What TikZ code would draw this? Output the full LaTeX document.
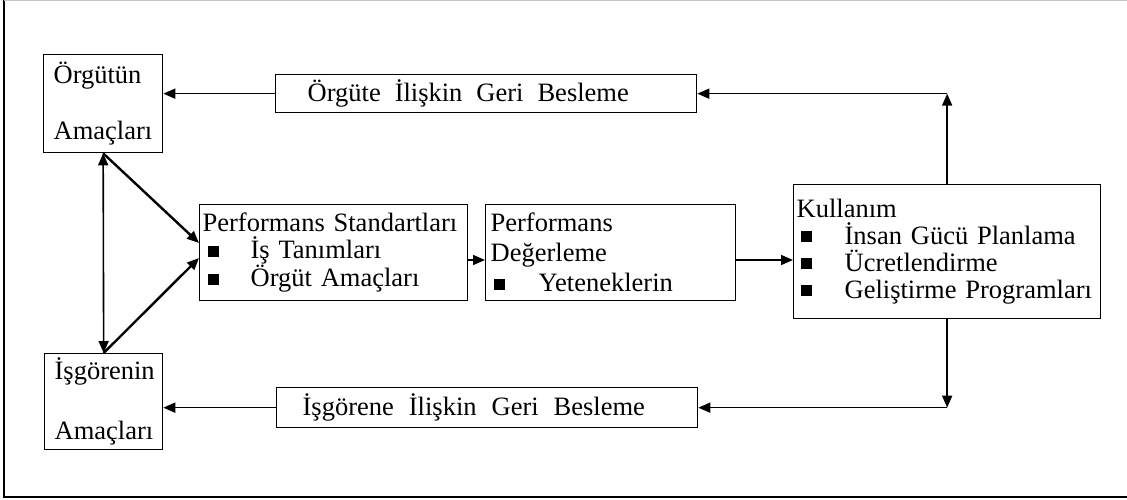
\documentclass[tikz,border=0pt]{standalone}
\usepackage{fontspec}
\setmainfont{Liberation Serif}
\usetikzlibrary{arrows.meta,calc}
\newcommand{\bul}[1][5pt]{\makebox[48pt][l]{\hspace*{#1}\rule[2pt]{11pt}{11pt}}}
\begin{document}
\begin{tikzpicture}[x=1pt,y=-1pt,
  box/.style={draw, line width=1.3pt, inner ysep=0pt, anchor=north west,
    font=\fontsize{26.5}{27}\selectfont, align=left},
  tip/.style={-{Triangle[length=12pt,width=10pt]}},
  conn/.style={line width=1.6pt, tip},
  diag/.style={line width=2.4pt, tip},
  both/.style={line width=1.6pt, {Triangle[length=12pt,width=10pt]}-{Triangle[length=12pt,width=10pt]}}
 ]
\useasboundingbox (0,0) rectangle (1127,499);
\draw[line width=1.5pt] (4,0) -- (4,497) -- (1127,497);
\draw[gray!45, line width=1pt] (4,0.5) -- (1127,0.5);

\node[box, minimum width=119pt, minimum height=98pt, inner xsep=10pt, text width=99pt] (org) at (43,54) {Örgütün\\[29pt]Amaçları};
\node[box, minimum width=118pt, minimum height=96pt, inner xsep=10pt, text width=98pt] (isg) at (44,353) {İşgörenin\\[33pt]Amaçları};

\node[box, minimum width=421pt, minimum height=38pt, inner xsep=0pt, text width=421pt] (ofb) at (275,74)
  {\hspace*{32pt}Örgüte\hspace{14pt}İlişkin\hspace{14pt}Geri\hspace{14pt}Besleme};
\node[box, minimum width=421pt, minimum height=40pt, inner xsep=0pt, text width=421pt] (ifb) at (276,387)
  {\hspace*{26pt}İşgörene\hspace{15pt}İlişkin\hspace{15pt}Geri\hspace{15pt}Besleme};

\node[box, minimum width=268pt, minimum height=96pt, inner xsep=3pt, text width=262pt] (ps) at (199,204)
  {Performans Standartları\\ \bul İş Tanımları\\ \bul Örgüt Amaçları};
\node[box, minimum width=250pt, minimum height=96pt, inner xsep=5pt, text width=240pt] (pd) at (485,204)
  {Performans\\[3pt]Değerleme\\[3pt]\bul[3pt]Yeteneklerin};
\node[box, minimum width=307pt, minimum height=134pt, inner xsep=3pt, text width=301pt] (kul) at (793,184)
  {Kullanım\\ \bul[4pt]İnsan Gücü Planlama\\ \bul[4pt]Ücretlendirme\\ \bul[4pt]Geliştirme Programları};

\coordinate (ctop) at (kul.north |- ofb.east);
\coordinate (cbot) at (kul.south |- ifb.east);
\draw[conn] (kul.north) -- (ctop);
\draw[conn] (ctop) -- (ofb.east);
\draw[conn] (ofb.west) -- (ofb.west -| org.east);
\draw[conn] (kul.south) -- (cbot);
\draw[conn] (cbot) -- (ifb.east);
\draw[conn] (ifb.west) -- (ifb.west -| isg.east);
\draw[both] (org.south) -- (isg.north);

\coordinate (pa) at (0,243);
\coordinate (pb) at (0,258);
\coordinate (pm) at (0,260);
\draw[diag] (org.south) -- (ps.west |- pa);
\draw[diag] (isg.north) -- (ps.west |- pb);
\draw[conn] (ps.east |- pm) -- (pd.west |- pm);
\draw[conn] (pd.east |- pm) -- (kul.west |- pm);
\end{tikzpicture}
\end{document}
